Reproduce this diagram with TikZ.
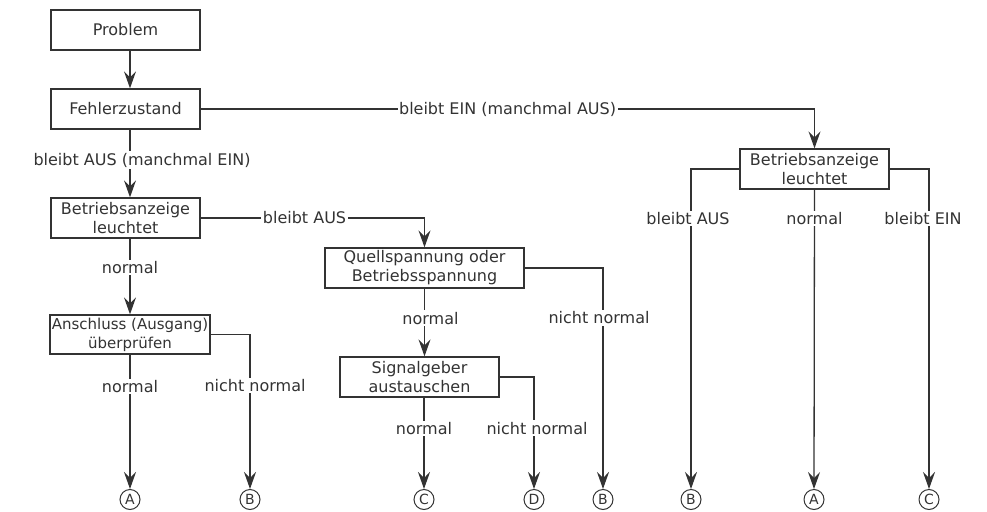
\documentclass[tikz,border=0pt]{standalone}
\usepackage{fontspec}
\setmainfont{DejaVu Sans}
\usetikzlibrary{arrows.meta,positioning}
\colorlet{linie}{black!80}
\tikzset{
  box/.style={draw=linie, text=linie, line width=1.3pt, minimum width=149pt, minimum height=40pt,
    inner sep=1pt, align=center, font=\fontsize{16pt}{19pt}\selectfont},
  lbl/.style={fill=white, text=linie, inner sep=1.5pt, font=\fontsize{16pt}{19pt}\selectfont},
  ziel/.style={circle, draw=linie, text=linie, line width=1pt, minimum size=20pt, inner sep=0pt,
    font=\fontsize{14pt}{14pt}\selectfont},
  pfeil/.style={draw=linie, line width=1.3pt, -{Stealth[length=17pt,width=12pt,inset=6pt]}}
}
\begin{document}
\begin{tikzpicture}[x=1pt,y=-1pt]
  \useasboundingbox (0,0) rectangle (987,511);
  \coordinate (colA) at (130,0);
  \node[box] (problem) at (125.5,30) {Problem};
  \node[box] (fehler) at (125.5,109) {Fehlerzustand};
  \node[box] (anzeigeL) at (125.5,218) {Betriebsanzeige\\leuchtet};
  \node[box, minimum width=160pt, minimum height=39pt, font=\fontsize{15pt}{19pt}\selectfont] (anschluss) at (130,334.5) {Anschluss (Ausgang)\\überprüfen};
  \node[box, minimum width=199pt] (quelle) at (424.5,268) {Quellspannung oder\\Betriebsspannung};
  \node[box, minimum width=159pt] (geber) at (419.5,377) {Signalgeber\\austauschen};
  \node[box] (anzeigeR) at (814.5,169) {Betriebsanzeige\\leuchtet};
  \foreach \n/\x/\t in {A1/130/A, B1/250/B, C1/424/C, D1/534/D, B2/603/B, B3/691/B, A2/814/A, C2/929/C}
    \node[ziel] (\n) at (\x,499.5) {\t};

  \draw[pfeil] (problem.south -| colA) -- (fehler.north -| colA);
  \draw[pfeil] (fehler.south -| colA) -- node[lbl, pos=0.45, xshift=12] {bleibt AUS (manchmal EIN)} (anzeigeL.north -| colA);
  \draw[pfeil] (fehler.east) -| node[lbl, pos=0.25] {bleibt EIN (manchmal AUS)} (anzeigeR.north);
  \draw[pfeil] (anzeigeL.east) -| node[lbl, pos=0.232] {bleibt AUS} (quelle.north);
  \draw[pfeil] (anzeigeL.south -| colA) -- node[lbl, pos=0.377] {normal} (anschluss.north);
  \draw[pfeil] (anschluss.south) -- node[lbl, pos=0.235] {normal} (A1.north);
  \draw[pfeil] (anschluss.east) -| node[lbl, pos=0.665, xshift=5] {nicht normal} (B1.north);
  \draw[pfeil] (quelle.south) -- node[lbl, pos=0.435, xshift=6] {normal} (quelle.south |- geber.north);
  \draw[pfeil] (quelle.east) -| node[lbl, pos=0.613, xshift=-4] {nicht normal} (B2.north);
  \draw[pfeil] (geber.south -| C1) -- node[lbl, pos=0.337] {normal} (C1.north);
  \draw[pfeil] (geber.east) -| node[lbl, pos=0.728, xshift=3] {nicht normal} (D1.north);
  \draw[pfeil] (anzeigeR.west) -| node[lbl, pos=0.577, xshift=-3] {bleibt AUS} (B3.north);
  \draw[pfeil] (anzeigeR.south) -- node[lbl, pos=0.097] {normal} (A2.north);
  \draw[pfeil] (anzeigeR.east) -| node[lbl, pos=0.577, xshift=-6] {bleibt EIN} (C2.north);
\end{tikzpicture}
\end{document}
